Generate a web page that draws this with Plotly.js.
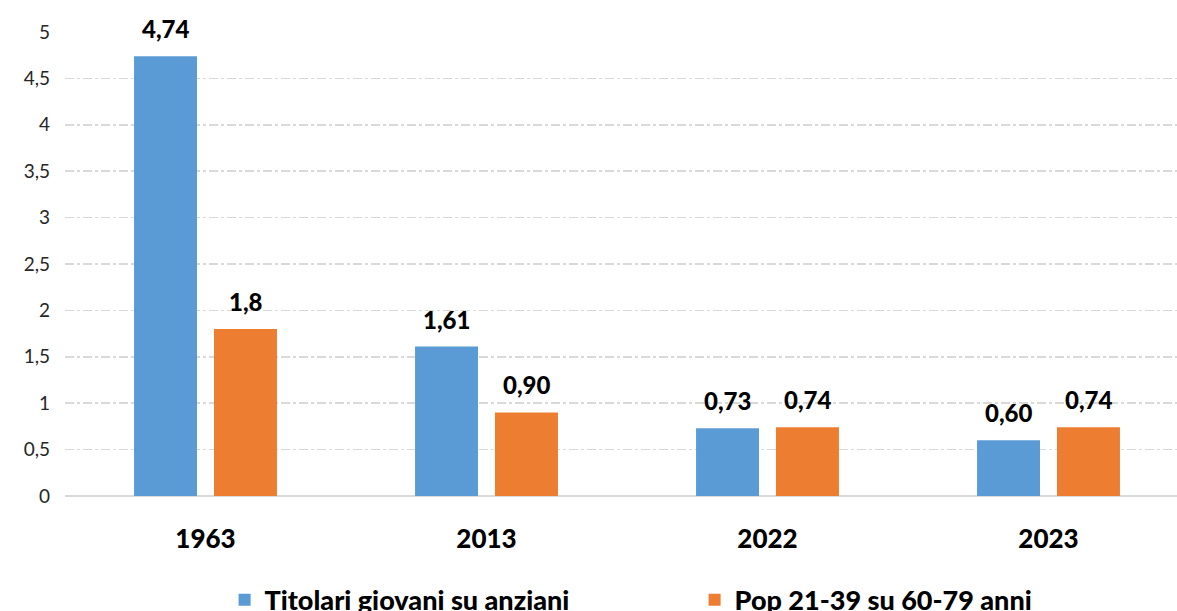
<!DOCTYPE html>
<html><head><meta charset="utf-8">
<script src="https://cdn.plot.ly/plotly-3.0.1.min.js"></script>
<style>html,body{margin:0;padding:0;overflow:hidden;background:#fff}</style>
</head><body><div id="chart"></div>
<script>
const categories = ["1963", "2013", "2022", "2023"];
const seriesNames = ["Titolari giovani su anziani", "Pop 21-39 su 60-79 anni"];
const titolari = [4.74, 1.61, 0.73, 0.60];
const popolazione = [1.8, 0.90, 0.74, 0.74];
const titolariLabels = ["4,74", "1,61", "0,73", "0,60"];
const popolazioneLabels = ["1,8", "0,90", "0,74", "0,74"];
const yTicks = [0, 0.5, 1, 1.5, 2, 2.5, 3, 3.5, 4, 4.5, 5];

const font = "Lato, 'Open Sans', sans-serif";
const labelFont = {family: font, size: 24, color: "#000", weight: 900};

const traces = [
  {type: "bar", name: seriesNames[0], x: categories, y: titolari, hoverinfo: "none",
   marker: {color: "#5B9BD5"}},
  {type: "bar", name: seriesNames[1], x: categories, y: popolazione, hoverinfo: "none",
   marker: {color: "#ED7D31"}}
];

const annotations = [];
[[titolari, titolariLabels, -40], [popolazione, popolazioneLabels, 40]].forEach(([vals, labs, dx]) => {
  categories.forEach((c, i) => annotations.push({
    x: i, y: vals[i], text: labs[i], xref: "x", yref: "y", showarrow: false,
    xanchor: "center", yanchor: "bottom", xshift: dx, yshift: 11, font: labelFont
  }));
});

const layout = {
  width: 1189, height: 611,
  margin: {l: 65, r: 0, t: 32, b: 115, autoexpand: false},
  paper_bgcolor: "#fff", plot_bgcolor: "#fff",
  barmode: "group", bargap: 0.431, bargroupgap: 0.2125,
  font: {family: font, color: "#000"},
  annotations: annotations,
  xaxis: {type: "category", range: [-0.5, 3.5], autorange: false,
    tickfont: {family: font, size: 26, color: "#000", weight: 900},
    showgrid: false, zeroline: false, showline: false, ticks: "", ticklabelstandoff: 25},
  yaxis: {range: [0, 5], autorange: false, tickvals: yTicks, ticktext: yTicks.map(v => String(v).replace(".", ",")),
    tickfont: {family: font, size: 19, color: "#262626"},
    showgrid: true, gridcolor: "#d9d9d9", gridwidth: 1.5, griddash: "dashdot",
    zeroline: true, zerolinecolor: "#d9d9d9", zerolinewidth: 2,
    showline: false, ticks: "", ticklabelstandoff: 14},
  showlegend: true,
  legend: {orientation: "h", x: 0.142, xanchor: "left", y: -0.172, yanchor: "top",
    font: {family: font, size: 27, color: "#000", weight: 900},
    entrywidth: 425, entrywidthmode: "pixels", traceorder: "normal"}
};

Plotly.newPlot("chart", traces, layout, {staticPlot: true, displayModeBar: false});
</script></body></html>
